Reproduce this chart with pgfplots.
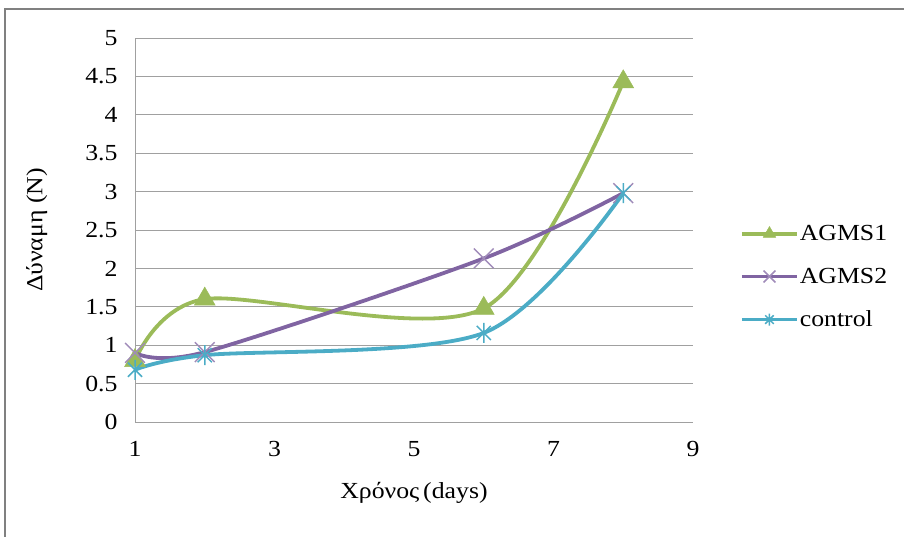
\documentclass[border=0pt]{standalone}
\usepackage{fontspec}
\setmainfont{Liberation Serif}[FakeStretch=1.12]
\usepackage{pgfplots}
\pgfplotsset{compat=1.18}

\definecolor{agmsA}{HTML}{9BBB59}
\definecolor{agmsB}{HTML}{8064A2}
\definecolor{ctrl}{HTML}{4BACC6}
\definecolor{gridc}{HTML}{A0A0A0}

% star marker: an x with a vertical bar through it
\pgfdeclareplotmark{xstar}{%
  \pgfpathmoveto{\pgfqpoint{-.70710678\pgfplotmarksize}{-.70710678\pgfplotmarksize}}%
  \pgfpathlineto{\pgfqpoint{.70710678\pgfplotmarksize}{.70710678\pgfplotmarksize}}%
  \pgfpathmoveto{\pgfqpoint{-.70710678\pgfplotmarksize}{.70710678\pgfplotmarksize}}%
  \pgfpathlineto{\pgfqpoint{.70710678\pgfplotmarksize}{-.70710678\pgfplotmarksize}}%
  \pgfpathmoveto{\pgfqpoint{0pt}{-\pgfplotmarksize}}%
  \pgfpathlineto{\pgfqpoint{0pt}{\pgfplotmarksize}}%
  \pgfusepathqstroke}

\begin{document}
\begin{tikzpicture}
\useasboundingbox (0pt,0pt) rectangle (904pt,536pt);
\draw[gray, line width=1.5pt] (5pt,-20pt) -- (5pt,527pt) -- (930pt,527pt);
\begin{axis}[
  at={(135pt,114pt)}, anchor=south west,
  scale only axis, width=558pt, height=384pt,
  xmin=1, xmax=9, ymin=0, ymax=5,
  xtick={1,3,5,7,9},
  ytick={0,0.5,...,5},
  axis lines=left,
  axis line style={gridc, line width=1pt, -},
  x axis line style={draw=none},
  major tick length=0pt,
  ymajorgrids, grid style={gridc, line width=1pt},
  clip=false,
  font=\fontsize{23}{27}\selectfont,
  /pgf/number format/assume math mode=true,
  xticklabel style={yshift=-16pt},
  yticklabel style={xshift=-14pt},
  xlabel={Χρόνος\,(days)},
  ylabel={Δύναμη (N)},
  xlabel style={at={(axis description cs:0.5,-0.185)}, anchor=center},
  ylabel style={at={(axis description cs:-0.176,0.5)}, anchor=center},
  every axis plot/.append style={line width=3.8pt, smooth, tension=0.5},
  legend style={at={(axis description cs:1.084,0.378)}, anchor=west,
    draw=none, fill=none, inner sep=0pt, row sep=22pt,
    font=\fontsize{23}{27}\selectfont,
    nodes={inner xsep=1pt}},
  legend cell align=left,
  legend image code/.code={%
    \draw[#1,mark repeat=2,mark phase=2,every mark/.append style={scale=0.6}]
      plot coordinates {(0pt,0pt) (27.5pt,0pt) (55pt,0pt)};},
]
\addplot[agmsA, mark=triangle*, mark size=12pt, mark options={line width=0.5pt, fill=agmsA}]
  coordinates {(1,0.8) (2,1.6) (6,1.48) (8,4.43)};
\addlegendentry{AGMS1}
\addplot[agmsB, mark=x, mark size=14pt, mark options={line width=1.5pt, draw=agmsB!75}]
  coordinates {(1,0.9) (2,0.91) (6,2.13) (8,2.98)};
\addlegendentry{AGMS2}
\addplot[ctrl, mark=xstar, mark size=10pt, mark options={line width=1.5pt}]
  coordinates {(1,0.68) (2,0.87) (6,1.16) (8,2.98)};
\addlegendentry{control}
\end{axis}
\end{tikzpicture}
\end{document}
